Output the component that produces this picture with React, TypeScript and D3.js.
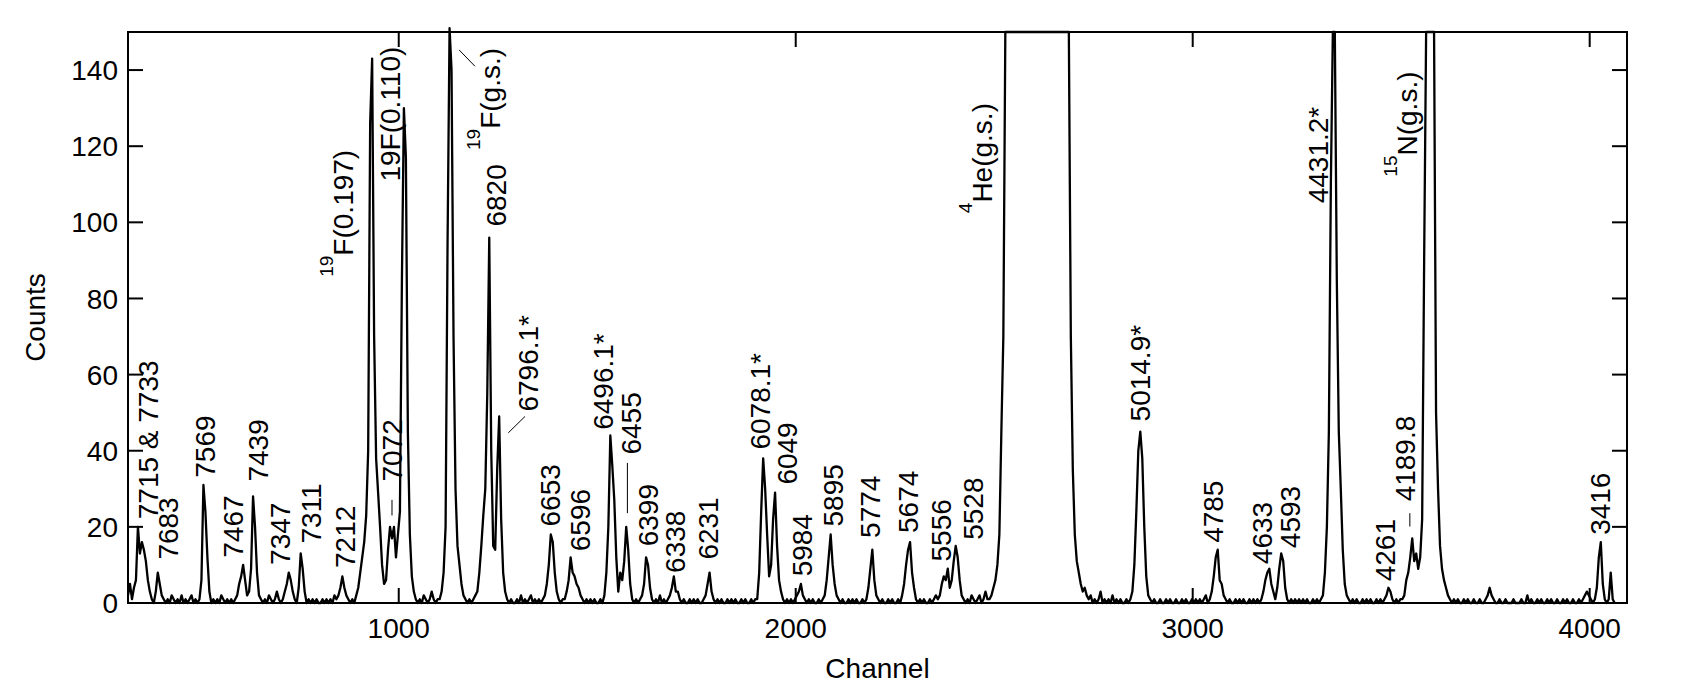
import React from 'react';
import * as d3 from 'd3';

// Spectrum: one value every 5 channels, starting at channel 318.
// Peaks that run off the top of the frame are stored at the axis maximum (150).
const CHANNEL_START = 318;
const CHANNEL_STEP = 5;

const countsLow = [
  2, 5, 1, 4, 6, 20, 13, 16, 14, 11,
  6, 3, 1, 0, 3, 8, 5, 2, 1, 0,
  1, 0, 2, 1, 0, 1, 0, 2, 0, 1,
  0, 1, 2, 0, 1, 0, 1, 6, 31, 24,
  12, 3, 0, 1, 0, 1, 0, 2, 1, 0,
  1, 0, 1, 0, 1, 2, 5, 7, 10, 6,
  2, 3, 9, 28, 20, 8, 2, 1, 0, 1,
  0, 2, 1, 0, 1, 3, 1, 0, 1, 3,
  5, 8, 6, 3, 1, 0, 4, 13, 9, 3,
  0, 1, 0, 1, 0, 1, 0, 0, 1, 0,
  1, 0, 1, 0, 2, 1, 2, 4, 7, 4,
  2, 1, 0, 1, 0, 2, 4, 8, 12, 16,
  23, 40, 126, 143, 70, 38, 29, 20, 10, 5,
  6, 14, 20, 17, 20, 12, 18, 24, 85, 130,
  117, 45, 18, 7, 3, 1, 0, 1, 0, 2,
  1, 0, 1, 3, 1, 0, 1, 1, 3, 8,
  20, 95, 151, 140, 70, 30, 15, 10, 5, 2,
  1, 0, 1, 0, 1, 2, 3, 8, 15, 23,
  30, 55, 96, 40, 15, 14, 35, 49, 22, 8,
  3, 1, 0, 1, 0, 0, 1, 0, 2, 0,
  1, 0, 1, 2, 0, 1, 0, 1, 0, 1,
  2, 5, 10, 18, 16, 8, 3, 1, 0, 1,
  1, 3, 6, 12, 8, 7, 5, 4, 2, 1,
  0, 1, 0, 1, 0, 1, 0, 0, 1, 0,
  2, 8, 20, 44, 36, 27, 12, 3, 8, 6,
];

const countsMid = [
  11, 20, 14, 5, 1, 0, 1, 0, 1, 2,
  5, 12, 10, 4, 1, 0, 1, 0, 2, 0,
  1, 0, 1, 2, 4, 7, 3, 3, 1, 0,
  1, 0, 0, 1, 0, 1, 0, 1, 0, 0,
  1, 2, 5, 8, 3, 1, 0, 1, 0, 1,
  0, 0, 1, 0, 1, 0, 1, 0, 0, 1,
  0, 1, 0, 0, 1, 0, 1, 1, 8, 24,
  38, 30, 18, 7, 10, 22, 29, 15, 6, 3,
  1, 0, 1, 0, 1, 0, 1, 2, 3, 5,
  2, 1, 0, 1, 0, 1, 0, 0, 1, 0,
  1, 2, 6, 12, 18, 10, 5, 2, 1, 0,
  1, 0, 0, 1, 0, 1, 0, 1, 0, 0,
  1, 0, 1, 4, 9, 14, 6, 2, 1, 0,
  1, 0, 0, 1, 0, 1, 0, 0, 1, 0,
  2, 5, 10, 14, 16, 8, 4, 1, 0, 1,
  0, 1, 0, 0, 1, 0, 1, 2, 1, 2,
  5, 7, 6, 9, 4, 6, 11, 15, 12, 6,
  2, 1, 0, 1, 0, 2, 1, 0, 1, 2,
  0, 1, 3, 1, 1, 2, 4, 6, 10, 18,
  45, 70, 150, 150, 150, 150, 150, 150, 150, 150,
  150, 150, 150, 150, 150, 150, 150, 150, 150, 150,
  150, 150, 150, 150, 150, 150, 150, 150, 150, 150,
  150, 150, 150, 150, 150, 70, 35, 18, 11, 8,
  5, 3, 4, 2, 1, 2, 0, 1, 0, 1,
  3, 0, 1, 0, 1, 0, 2, 0, 1, 0,
];

const countsHigh = [
  1, 0, 0, 1, 0, 1, 3, 10, 24, 40,
  45, 38, 20, 7, 2, 1, 0, 1, 0, 0,
  1, 0, 0, 1, 0, 1, 0, 0, 1, 0,
  0, 1, 0, 1, 0, 0, 1, 0, 1, 0,
  1, 0, 1, 2, 0, 1, 3, 7, 12, 14,
  6, 5, 2, 1, 0, 1, 0, 0, 1, 0,
  1, 0, 1, 0, 0, 1, 0, 1, 0, 1,
  0, 1, 3, 6, 8, 9, 5, 3, 1, 4,
  9, 13, 11, 4, 1, 0, 1, 0, 1, 0,
  1, 0, 1, 0, 1, 0, 0, 1, 0, 1,
  0, 1, 2, 8, 20, 45, 110, 150, 150, 85,
  45, 30, 14, 5, 2, 1, 0, 1, 0, 1,
  0, 0, 1, 0, 1, 0, 1, 0, 0, 1,
  0, 1, 0, 1, 2, 4, 3, 1, 0, 1,
  0, 1, 1, 2, 6, 8, 12, 17, 11, 13,
  9, 12, 22, 90, 150, 150, 150, 150, 150, 50,
  30, 15, 9, 6, 4, 2, 1, 0, 1, 0,
  1, 0, 0, 1, 0, 1, 0, 0, 1, 0,
  0, 1, 0, 0, 1, 2, 4, 2, 1, 0,
  0, 1, 0, 0, 1, 0, 0, 0, 1, 0,
  0, 0, 1, 0, 0, 2, 0, 1, 0, 0,
  1, 0, 1, 0, 0, 1, 0, 1, 0, 0,
  1, 0, 0, 1, 0, 1, 0, 0, 1, 0,
  0, 1, 0, 1, 2, 3, 2, 1, 0, 1,
  4, 12, 16, 5, 1, 0, 1, 8, 1, 0,
];

const xTicks = [1000, 2000, 3000, 4000];
const yTicks = [0, 20, 40, 60, 80, 100, 120, 140];

// peak labels, anchored (channel, counts) at the start of the rotated text
const peakLabels = [
  { text: '7715 & 7733', ch: 394, c: 22 },
  { text: '7683', ch: 444, c: 11.4 },
  { text: '7569', ch: 537, c: 32.9 },
  { text: '7467', ch: 608, c: 11.9 },
  { text: '7439', ch: 671, c: 31.9 },
  { text: '7347', ch: 726, c: 10 },
  { text: '7311', ch: 805, c: 15.6 },
  { text: '7212', ch: 890, c: 9.2 },
  { text: '7072', ch: 1007, c: 31.9 },
  { sup: '19', text: 'F(0.197)', ch: 886, c: 85.7 },
  { text: '19F(0.110)', ch: 1002, c: 110.7 },
  { sup: '19', text: 'F(g.s.)', ch: 1255, c: 119 },
  { text: '6820', ch: 1270, c: 98.9 },
  { text: '6796.1*', ch: 1351, c: 50.3 },
  { text: '6653', ch: 1406, c: 20.1 },
  { text: '6596', ch: 1482, c: 13.6 },
  { text: '6496.1*', ch: 1540, c: 45.5 },
  { text: '6455', ch: 1611, c: 39 },
  { text: '6399', ch: 1653, c: 14.9 },
  { text: '6338', ch: 1721, c: 7.9 },
  { text: '6231', ch: 1804, c: 11.4 },
  { text: '6078.1*', ch: 1934, c: 40.3 },
  { text: '6049', ch: 2002, c: 31.1 },
  { text: '5984', ch: 2040, c: 7 },
  { text: '5895', ch: 2119, c: 20.1 },
  { text: '5774', ch: 2212, c: 17.1 },
  { text: '5674', ch: 2308, c: 18.4 },
  { text: '5556', ch: 2392, c: 10.9 },
  { text: '5528', ch: 2472, c: 16.6 },
  { sup: '4', text: 'He(g.s.)', ch: 2494, c: 102.4 },
  { text: '5014.9*', ch: 2892, c: 47.7 },
  { text: '4785', ch: 3076, c: 15.8 },
  { text: '4633', ch: 3201, c: 10.2 },
  { text: '4593', ch: 3270, c: 14.4 },
  { text: '4431.2*', ch: 3342, c: 105 },
  { sup: '15', text: 'N(g.s.)', ch: 3564, c: 112 },
  { text: '4261', ch: 3510, c: 5.7 },
  { text: '4189.8', ch: 3560, c: 26.7 },
  { text: '3416', ch: 4051, c: 17.9 },
];

// short leader lines from labels to peaks: [ch1, c1, ch2, c2]
const leaders = [
  [983, 27.1, 983, 23],
  [1152, 145.3, 1192, 141],
  [1276, 44.7, 1318, 49],
  [1576, 36.8, 1576, 23.6],
  [3547, 23.6, 3547, 20.1],
];

const W = 1694;
const H = 700;
const margin = { top: 32, right: 67, bottom: 97, left: 128 };
const FONT = "'Liberation Sans', Arial, Helvetica, sans-serif";
const TICK = 15;

export default function App() {
  const counts = [...countsLow, ...countsMid, ...countsHigh];
  const points: [number, number][] = counts.map((c, i) => [CHANNEL_START + i * CHANNEL_STEP, c]);

  const x = d3.scaleLinear().domain([318, 4094]).range([margin.left, W - margin.right]);
  const y = d3.scaleLinear().domain([0, 150]).range([H - margin.bottom, margin.top]);

  const line = d3.line<[number, number]>()
    .x(d => x(d[0]))
    .y(d => y(d[1]));

  const left = margin.left;
  const right = W - margin.right;
  const top = margin.top;
  const bottom = H - margin.bottom;

  return (
    <svg width={W} height={H} style={{ position: 'absolute', left: 0, top: 0, background: '#fff' }}
      fontFamily={FONT}>
      <rect x={0} y={0} width={W} height={H} fill="#fff" />

      {/* spectrum */}
      <path d={line(points) ?? ''} fill="none" stroke="#000" strokeWidth={2.3} strokeLinejoin="round" />

      {/* frame */}
      <rect x={left} y={top} width={right - left} height={bottom - top} fill="none" stroke="#000" strokeWidth={2} />

      {/* x ticks, inward on both sides */}
      {xTicks.map(t => (
        <g key={'x' + t}>
          <line x1={x(t)} x2={x(t)} y1={bottom} y2={bottom - TICK} stroke="#000" strokeWidth={2} />
          <line x1={x(t)} x2={x(t)} y1={top} y2={top + TICK} stroke="#000" strokeWidth={2} />
          <text x={x(t)} y={bottom + 35} fontSize={28} textAnchor="middle">{t}</text>
        </g>
      ))}

      {/* y ticks, inward on both sides */}
      {yTicks.map(t => (
        <g key={'y' + t}>
          <line x1={left} x2={left + TICK} y1={y(t)} y2={y(t)} stroke="#000" strokeWidth={2} />
          <line x1={right} x2={right - TICK} y1={y(t)} y2={y(t)} stroke="#000" strokeWidth={2} />
          <text x={left - 10} y={y(t)} dy="0.36em" fontSize={28} textAnchor="end">{t}</text>
        </g>
      ))}

      {/* axis titles */}
      <text x={(left + right) / 2} y={678} fontSize={28} textAnchor="middle">Channel</text>
      <text transform={`translate(45,${(top + bottom) / 2}) rotate(-90)`} fontSize={28} textAnchor="middle">Counts</text>

      {/* leaders */}
      {leaders.map((l, i) => (
        <line key={'l' + i} x1={x(l[0])} y1={y(l[1])} x2={x(l[2])} y2={y(l[3])} stroke="#000" strokeWidth={1} />
      ))}

      {/* peak labels */}
      {peakLabels.map((p, i) => (
        <text key={'p' + i} transform={`translate(${x(p.ch)},${y(p.c)}) rotate(-90)`} fontSize={28}>
          {p.sup && <tspan fontSize={19} dy={-20}>{p.sup}</tspan>}
          <tspan dy={p.sup ? 20 : 0}>{p.text}</tspan>
        </text>
      ))}
    </svg>
  );
}
